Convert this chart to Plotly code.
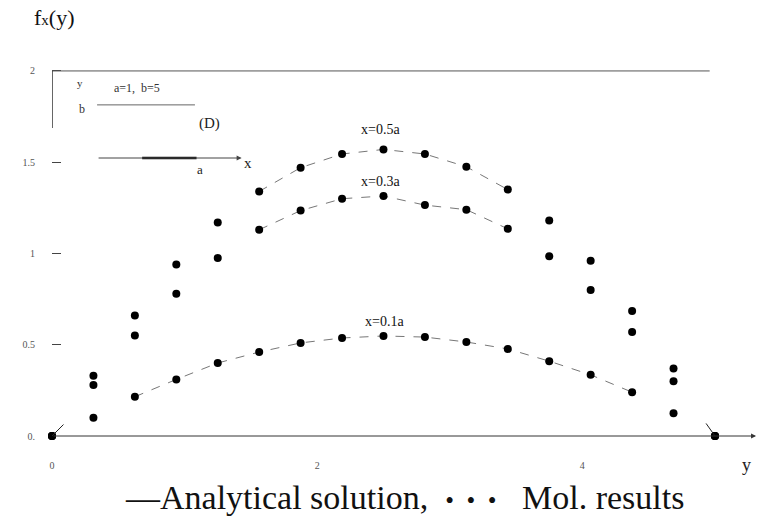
import plotly.graph_objects as go

# ---- data ----
y_pos = [0, 0.3125, 0.625, 0.9375, 1.25, 1.5625, 1.875, 2.1875, 2.5,
         2.8125, 3.125, 3.4375, 3.75, 4.0625, 4.375, 4.6875, 5.0]
mol_x05 = [0, 0.33, 0.66, 0.94, 1.17, 1.34, 1.47, 1.545, 1.57, 1.545,
           1.475, 1.35, 1.18, 0.96, 0.685, 0.37, 0]
mol_x03 = [0, 0.28, 0.55, 0.78, 0.975, 1.13, 1.235, 1.30, 1.315, 1.265,
           1.24, 1.135, 0.985, 0.80, 0.57, 0.30, 0]
mol_x01 = [0, 0.10, 0.215, 0.31, 0.40, 0.46, 0.51, 0.537, 0.548, 0.542,
           0.515, 0.477, 0.41, 0.335, 0.24, 0.125, 0]
# visible stretches of the (faded) analytical curves, as index ranges
ana_ranges = [(5, 11), (5, 11), (2, 14)]
curve_labels = ["x=0.5a", "x=0.3a", "x=0.1a"]
label_pos = [(2.474, 1.677), (2.474, 1.392), (2.51, 0.625)]
x_ticks = [0, 2, 4]
x_ticktext = ["0", "2", "4"]
y_ticks = [0, 0.5, 1, 1.5, 2]
y_ticktext = ["0.", "0.5", "1", "1.5", "2"]

SERIF = "Liberation Serif"
series = [mol_x05, mol_x03, mol_x01]

fig = go.Figure()
for vals, (i0, i1) in zip(series, ana_ranges):
    fig.add_trace(go.Scatter(
        x=y_pos[i0:i1 + 1], y=vals[i0:i1 + 1], mode="lines",
        line=dict(color="#777777", width=1, dash="dash"),
        hoverinfo="skip", cliponaxis=False))
for vals in series:
    fig.add_trace(go.Scatter(
        x=y_pos, y=vals, mode="markers",
        marker=dict(color="black", size=8),
        cliponaxis=False))

ann = []
# x axis as an arrow
ann.append(dict(x=5.31, y=0, ax=0, ay=0, axref="x", ayref="y", xref="x", yref="y",
                showarrow=True, arrowhead=2, arrowsize=1, arrowwidth=1,
                arrowcolor="#333333", text=""))
ann.append(dict(x=0.994, y=-0.078, xref="paper", yref="paper", text="y", showarrow=False,
                yanchor="middle", font=dict(family=SERIF, size=18, color="#222")))
ann.append(dict(x=-0.028, y=1.118, xref="paper", yref="paper", yanchor="middle",
                text="f<span style='font-size:15px'>x</span>(y)", showarrow=False,
                font=dict(family=SERIF, size=22, color="#111")))
for txt, (lx, ly) in zip(curve_labels, label_pos):
    ann.append(dict(x=lx, y=ly, xref="x", yref="y", text=txt, showarrow=False,
                    font=dict(family=SERIF, size=14, color="#111")))
# inset diagram texts
inset = [
    dict(x=0.21, y=1.934, text="y", font=dict(family=SERIF, size=11, color="#333")),
    dict(x=0.226, y=1.79, text="b", font=dict(family=SERIF, size=12, color="#333")),
    dict(x=0.64, y=1.907, text="a=1,  b=5", font=dict(family=SERIF, size=12, color="#333")),
    dict(x=1.19, y=1.71, text="(D)", font=dict(family=SERIF, size=15, color="#222")),
    dict(x=1.116, y=1.462, text="a", font=dict(family=SERIF, size=13, color="#222")),
    dict(x=1.478, y=1.496, text="x", font=dict(family=SERIF, size=15, color="#222")),
]
for a in inset:
    a.update(xref="x", yref="y", showarrow=False)
ann += inset
# inset x-arrow
ann.append(dict(x=1.43, y=1.523, ax=0.34, ay=1.523, axref="x", ayref="y", xref="x",
                yref="y", showarrow=True, arrowhead=2, arrowsize=1, arrowwidth=1,
                arrowcolor="#444", text=""))
# pointer strokes at the two end points
ann.append(dict(x=0, y=0, ax=0.098, ay=0.071, axref="x", ayref="y", xref="x", yref="y",
                showarrow=True, arrowhead=0, arrowwidth=1, arrowcolor="#222", text=""))
ann.append(dict(x=5.0, y=0, ax=4.925, ay=0.077, axref="x", ayref="y", xref="x", yref="y",
                showarrow=True, arrowhead=0, arrowwidth=1, arrowcolor="#222", text=""))
# caption
ann.append(dict(x=0.5, y=-0.165, xref="paper", yref="paper", showarrow=False, yanchor="middle",
                text="—Analytical solution,  <span style='font-size:25px'>•  •  •</span>   Mol. results",
                font=dict(family=SERIF, size=34, color="#111")))

shapes = [
    dict(type="line", xref="x", yref="y", x0=0, x1=4.96, y0=2, y1=2,
         line=dict(color="#555", width=1)),
    dict(type="line", xref="x", yref="y", x0=0, x1=0, y0=1.688, y1=2,
         line=dict(color="#333", width=1.5)),
    dict(type="line", xref="x", yref="y", x0=0.34, x1=1.078, y0=1.814, y1=1.814,
         line=dict(color="#666", width=1)),
    dict(type="line", xref="x", yref="y", x0=0.68, x1=1.09, y0=1.523, y1=1.523,
         line=dict(color="#111", width=2.5)),
]

fig.update_layout(
    width=758, height=525,
    margin=dict(l=52, r=1, t=62, b=89),
    paper_bgcolor="white", plot_bgcolor="white",
    showlegend=False,
    annotations=ann, shapes=shapes,
    xaxis=dict(range=[0, 5.317], tickvals=x_ticks, ticktext=x_ticktext,
               ticks="", showgrid=False, zeroline=False, showline=False,
               ticklabelstandoff=22,
               tickfont=dict(family=SERIF, size=10, color="#555")),
    yaxis=dict(range=[0, 2.049], tickvals=y_ticks, ticktext=y_ticktext,
               ticks="inside", ticklen=9, tickwidth=1, tickcolor="#444",
               showgrid=False, zeroline=False, showline=False,
               ticklabelstandoff=16,
               tickfont=dict(family=SERIF, size=10, color="#555")),
)

fig.write_html("out.html")
